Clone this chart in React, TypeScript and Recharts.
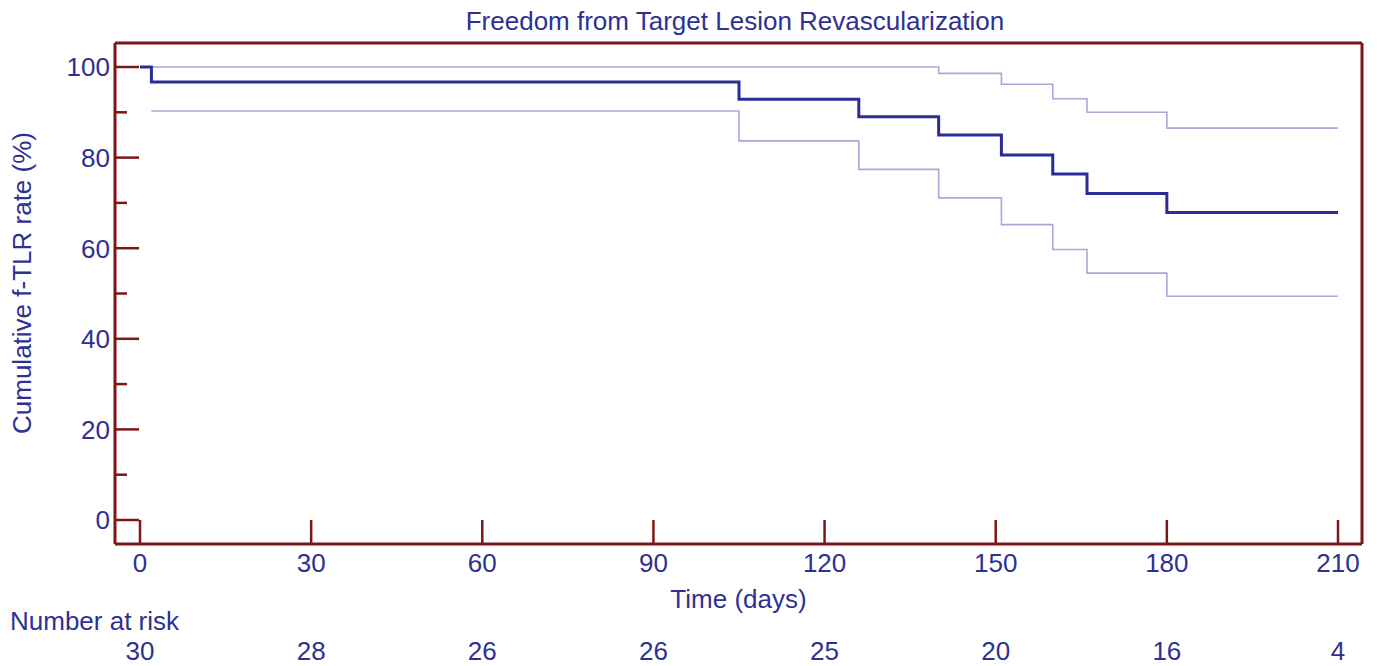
import React from 'react';
import { LineChart, Line, XAxis, YAxis } from 'recharts';

const xTicks = [0, 30, 60, 90, 120, 150, 180, 210];
const atRisk = [30, 28, 26, 26, 25, 20, 16, 4];
const yTicks = [0, 10, 20, 30, 40, 50, 60, 70, 80, 90, 100];

const survTimes = [0, 2, 105, 126, 140, 151, 160, 166, 180, 210];
const survValues = [100, 96.7, 92.9, 89.0, 85.0, 80.6, 76.4, 72.1, 67.9, 67.9];

const upperTimes = [0, 140, 151, 160, 166, 180, 210];
const upperValues = [100, 98.6, 96.2, 93.0, 90.0, 86.5, 86.5];

const lowerTimes = [2, 105, 126, 140, 151, 160, 166, 180, 210];
const lowerValues = [90.3, 83.7, 77.4, 71.1, 65.2, 59.7, 54.5, 49.4, 49.4];

const toData = (t: number[], v: number[]) => t.map((x, i) => ({ t: x, v: v[i] }));
const survData = toData(survTimes, survValues);
const upperData = toData(upperTimes, upperValues);
const lowerData = toData(lowerTimes, lowerValues);

const FRAME = '#7d1616';
const TEXT = '#2e3192';
const MAIN = '#2c2c98';
const CI = '#a8a8da';
const FONT = 'Liberation Sans, Arial, sans-serif';
const FS = 26;

const XTick = (props: any) => {
  const { x, y, payload } = props;
  const idx = xTicks.indexOf(payload.value);
  return (
    <g>
      <line x1={x} x2={x} y1={y} y2={y - 24} stroke={FRAME} strokeWidth={2.5} />
      <text x={x} y={y + 28} textAnchor="middle" fill={TEXT} fontSize={FS} fontFamily={FONT}>
        {payload.value}
      </text>
      <text x={x} y={y + 116} textAnchor="middle" fill={TEXT} fontSize={FS} fontFamily={FONT}>
        {idx >= 0 ? atRisk[idx] : ''}
      </text>
    </g>
  );
};

const YTick = (props: any) => {
  const { x, y, payload } = props;
  const major = payload.value % 20 === 0;
  return (
    <g>
      <line x1={x} x2={x + (major ? 24 : 12)} y1={y} y2={y} stroke={FRAME} strokeWidth={2.5} />
      {major && (
        <text x={x - 5} y={y} dy="0.36em" textAnchor="end" fill={TEXT} fontSize={FS} fontFamily={FONT}>
          {payload.value}
        </text>
      )}
    </g>
  );
};

export default function App() {
  return (
    <div style={{ position: 'absolute', left: 0, top: 0, width: 1377, height: 666, background: '#fff', fontFamily: FONT }}>
      <LineChart width={1377} height={666} margin={{ top: 42, right: 14, bottom: 0, left: 0 }}>
        <XAxis
          xAxisId="top"
          orientation="top"
          type="number"
          dataKey="t"
          domain={[0, 210]}
          height={1}
          ticks={[]}
          tick={false}
          tickLine={false}
          axisLine={{ stroke: FRAME, strokeWidth: 3 }}
        />
        <YAxis
          yAxisId="right"
          orientation="right"
          type="number"
          domain={[0, 100]}
          width={1}
          ticks={[]}
          tick={false}
          tickLine={false}
          axisLine={{ stroke: FRAME, strokeWidth: 3 }}
        />
        <XAxis
          type="number"
          dataKey="t"
          domain={[0, 210]}
          ticks={xTicks}
          interval={0}
          padding={{ left: 25, right: 24 }}
          height={122}
          tickSize={0}
          tickMargin={0}
          tickLine={false}
          tick={<XTick />}
          axisLine={{ stroke: FRAME, strokeWidth: 3 }}
        />
        <YAxis
          type="number"
          domain={[0, 100]}
          ticks={yTicks}
          interval={0}
          padding={{ top: 24, bottom: 24 }}
          width={115}
          tickSize={0}
          tickMargin={0}
          tickLine={false}
          tick={<YTick />}
          axisLine={{ stroke: FRAME, strokeWidth: 3 }}
        />
        <Line data={upperData} dataKey="v" type="stepAfter" stroke={CI} strokeWidth={1.6} dot={false} isAnimationActive={false} />
        <Line data={lowerData} dataKey="v" type="stepAfter" stroke={CI} strokeWidth={1.6} dot={false} isAnimationActive={false} />
        <Line data={survData} dataKey="v" type="stepAfter" stroke={MAIN} strokeWidth={3} dot={false} isAnimationActive={false} />
      </LineChart>
      <div style={{ position: 'absolute', left: 0, width: 1470, top: 6, textAlign: 'center', color: TEXT, fontSize: FS, lineHeight: '30px', whiteSpace: 'nowrap' }}>
        Freedom from Target Lesion Revascularization
      </div>
      <div style={{ position: 'absolute', left: 0, width: 1477, top: 584, textAlign: 'center', color: TEXT, fontSize: FS, lineHeight: '30px', whiteSpace: 'nowrap' }}>
        Time (days)
      </div>
      <div style={{ position: 'absolute', left: 10, top: 606, color: TEXT, fontSize: FS, lineHeight: '30px', whiteSpace: 'nowrap' }}>
        Number at risk
      </div>
      <div style={{ position: 'absolute', left: 22, top: 283, color: TEXT, fontSize: FS, lineHeight: '30px', whiteSpace: 'nowrap', transform: 'translate(-50%, -50%) rotate(-90deg)' }}>
        Cumulative f-TLR rate (%)
      </div>
    </div>
  );
}
